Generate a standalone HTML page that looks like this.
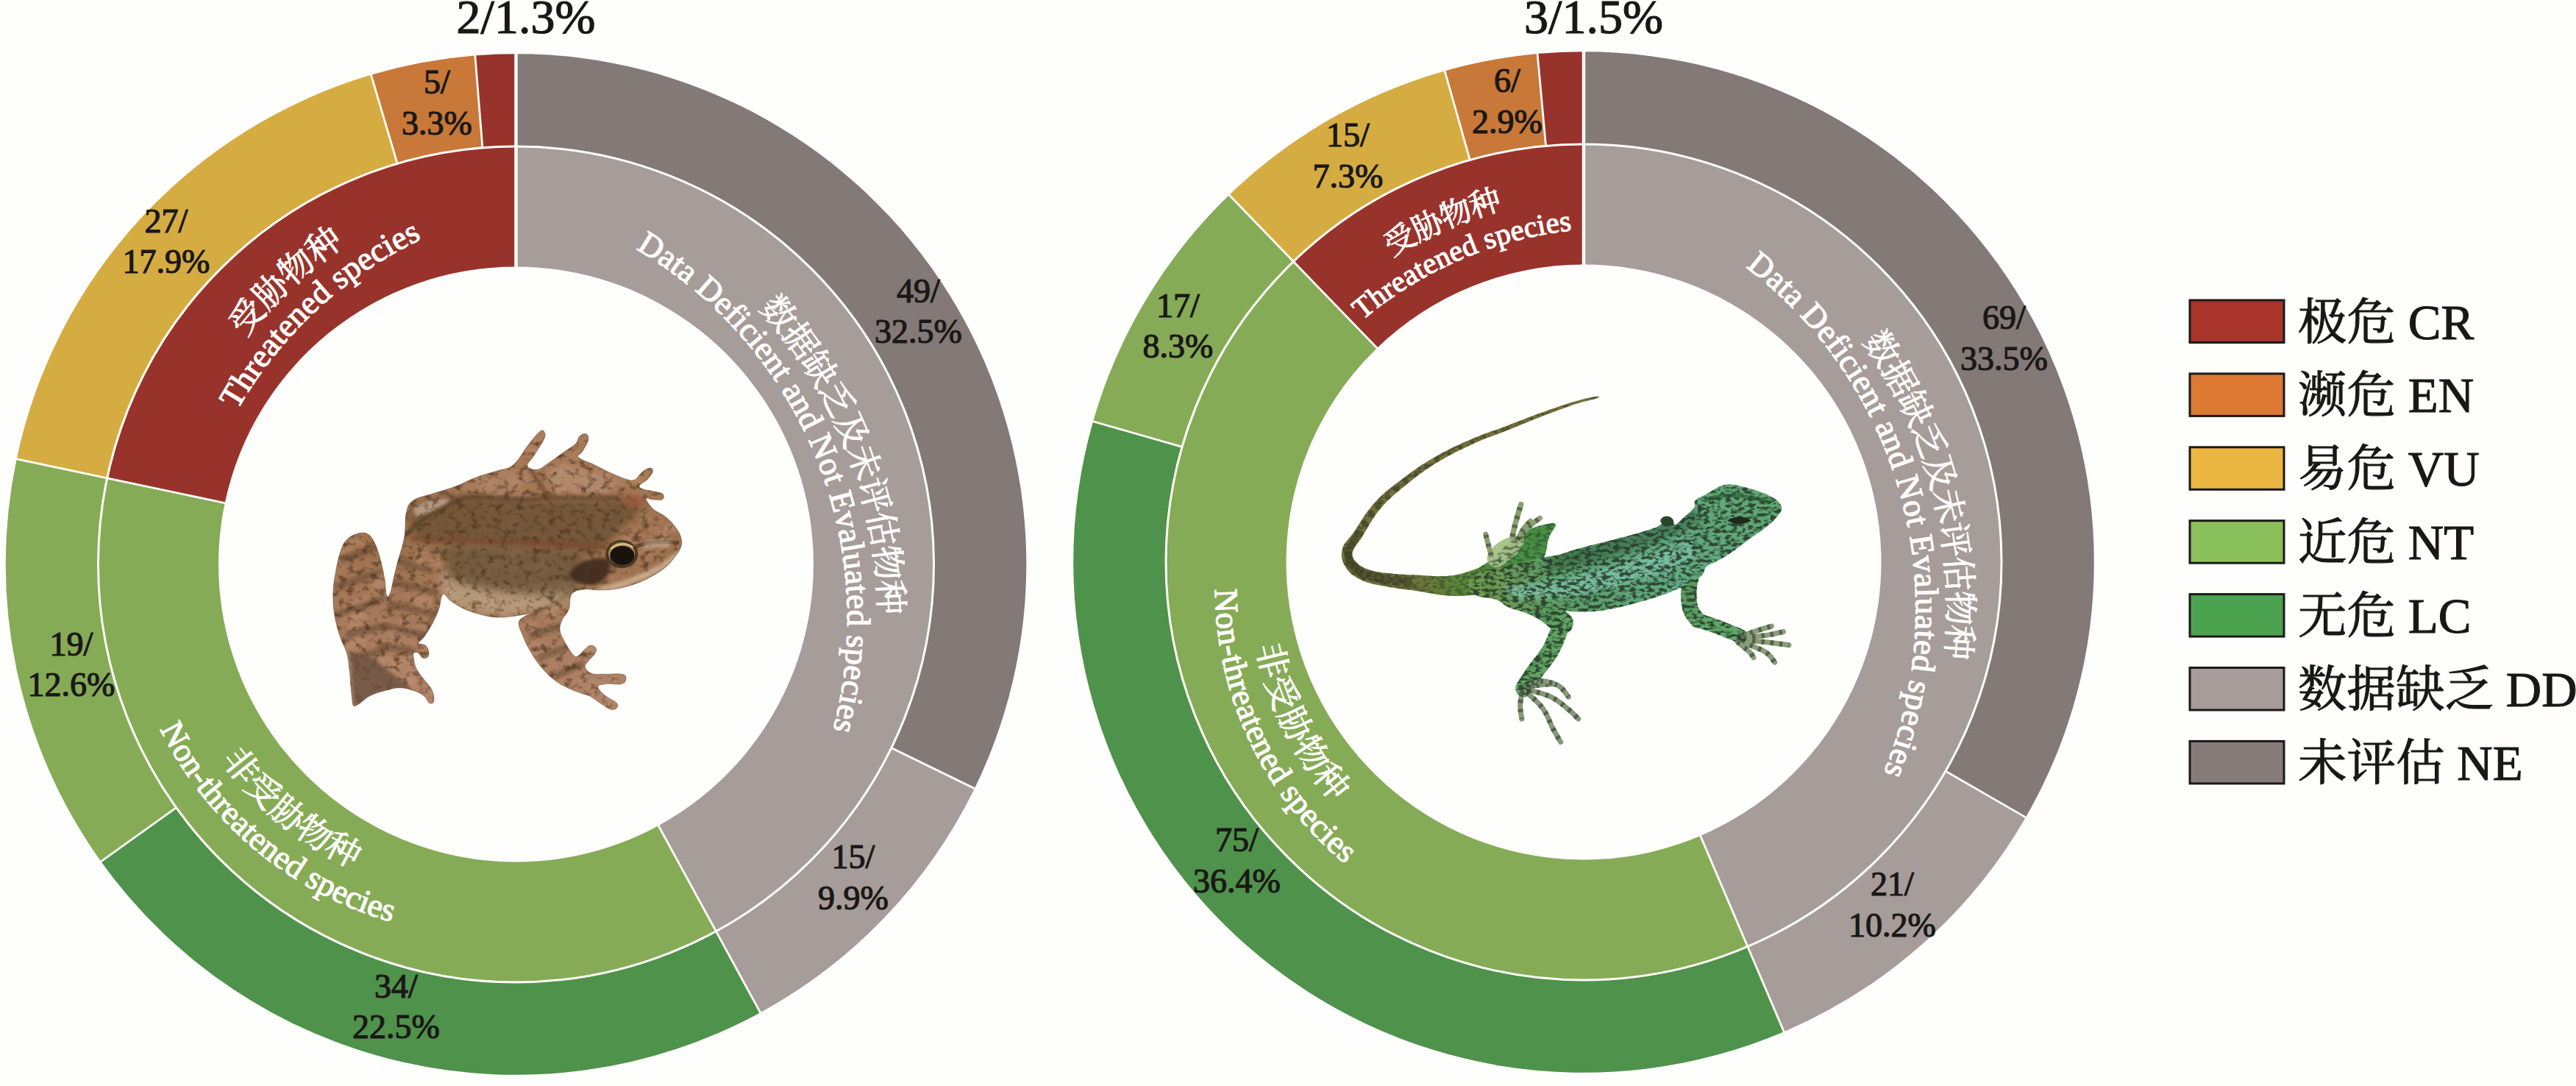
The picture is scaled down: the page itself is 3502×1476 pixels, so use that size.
<!DOCTYPE html>
<html lang="zh">
<head>
<meta charset="utf-8">
<title>Red list status of amphibians and reptiles</title>
<style>
html,body{margin:0;padding:0;background:#fefefd;}
body{width:3502px;height:1476px;overflow:hidden;}
svg{display:block;}
text{font-family:"Liberation Serif","Noto Serif CJK SC",serif;}
.lb{fill:#1a1817;text-anchor:middle;stroke:#1a1817;stroke-width:1.2px;}
.we{fill:#fffdfb;stroke:#fffdfb;stroke-width:1.2px;}
.wc{fill:#fffdfb;stroke:#fffdfb;stroke-width:0.9px;font-family:"Liberation Serif","Noto Serif CJK SC",serif;}
.lg{fill:#1a1817;font-size:67px;stroke:#1a1817;stroke-width:1.1px;}
.lc{font-family:"Liberation Serif","Noto Serif CJK SC",serif;font-size:66.5px;}
</style>
</head>
<body>
<svg width="3502" height="1476" viewBox="0 0 3502 1476">
<rect width="3502" height="1476" fill="#fefefd"/>
<defs>
<path id="l_thr_e" d="M322.73,557.64 A568.0,568.0 0 0 1 573.23,324.98" fill="none"/>
<path id="l_thr_c" d="M333.62,459.09 A614.0,614.0 0 0 1 469.00,332.07" fill="none"/>
<path id="l_non_e" d="M217.31,990.88 A505.3,505.3 0 0 0 532.29,1253.09" fill="none"/>
<path id="l_non_c" d="M300.80,1032.51 A455.0,455.0 0 0 0 480.17,1180.37" fill="none"/>
<path id="l_dd_e" d="M864.28,338.42 A584.1,584.1 0 0 1 1132.46,991.99" fill="none"/>
<path id="l_dd_c" d="M1031.01,419.01 A627.0,627.0 0 0 1 1194.97,835.78" fill="none"/>
<path id="r_thr_e" d="M1852.09,435.25 A534.6,534.6 0 0 1 2137.08,312.99" fill="none"/>
<path id="r_thr_c" d="M1892.23,349.46 A580.8,580.8 0 0 1 2043.53,283.95" fill="none"/>
<path id="r_non_e" d="M1651.70,800.67 A485.7,485.7 0 0 0 1828.85,1174.50" fill="none"/>
<path id="r_non_c" d="M1708.63,878.48 A436.0,436.0 0 0 0 1812.73,1090.41" fill="none"/>
<path id="r_dd_e" d="M2373.06,362.98 A584.1,584.1 0 0 1 2560.81,1050.24" fill="none"/>
<path id="r_dd_c" d="M2531.41,463.56 A628.0,628.0 0 0 1 2644.86,895.22" fill="none"/>
</defs>
<g id="charts">
<path d="M701.50,73.20 A693.8,693.8 0 0 1 1324.82,1071.69 L1211.80,1016.44 A568.0,568.0 0 0 0 701.50,199.00 Z" fill="#837977"/>
<path d="M1324.82,1071.69 A693.8,693.8 0 0 1 1033.62,1376.14 L973.40,1265.69 A568.0,568.0 0 0 0 1211.80,1016.44 Z" fill="#a69c99"/>
<path d="M1033.62,1376.14 A693.8,693.8 0 0 1 137.37,1170.88 L239.66,1097.65 A568.0,568.0 0 0 0 973.40,1265.69 Z" fill="#4f924b"/>
<path d="M137.37,1170.88 A693.8,693.8 0 0 1 22.61,623.94 L145.71,649.88 A568.0,568.0 0 0 0 239.66,1097.65 Z" fill="#86ab57"/>
<path d="M22.61,623.94 A693.8,693.8 0 0 1 504.45,101.77 L540.18,222.39 A568.0,568.0 0 0 0 145.71,649.88 Z" fill="#d5ac41"/>
<path d="M504.45,101.77 A693.8,693.8 0 0 1 645.86,75.43 L655.95,200.83 A568.0,568.0 0 0 0 540.18,222.39 Z" fill="#c87838"/>
<path d="M645.86,75.43 A693.8,693.8 0 0 1 701.50,73.20 L701.50,199.00 A568.0,568.0 0 0 0 655.95,200.83 Z" fill="#98332c"/>
<path d="M701.50,199.00 A568.0,568.0 0 0 1 973.40,1265.69 L895.13,1122.14 A404.5,404.5 0 0 0 701.50,362.50 Z" fill="#a69c99"/>
<path d="M973.40,1265.69 A568.0,568.0 0 0 1 145.71,649.88 L305.69,683.59 A404.5,404.5 0 0 0 895.13,1122.14 Z" fill="#86ab57"/>
<path d="M145.71,649.88 A568.0,568.0 0 0 1 701.50,199.00 L701.50,362.50 A404.5,404.5 0 0 0 305.69,683.59 Z" fill="#98332c"/>
<circle cx="701.5" cy="767.0" r="568.0" fill="none" stroke="#fffdf8" stroke-width="3.0"/>
<line x1="1211.80" y1="1016.44" x2="1325.72" y2="1072.13" stroke="#fffdf8" stroke-width="2.8"/>
<line x1="973.40" y1="1265.69" x2="1034.10" y2="1377.02" stroke="#fffdf8" stroke-width="2.8"/>
<line x1="239.66" y1="1097.65" x2="136.56" y2="1171.46" stroke="#fffdf8" stroke-width="2.8"/>
<line x1="145.71" y1="649.88" x2="21.63" y2="623.73" stroke="#fffdf8" stroke-width="2.8"/>
<line x1="540.18" y1="222.39" x2="504.17" y2="100.81" stroke="#fffdf8" stroke-width="2.8"/>
<line x1="655.95" y1="200.83" x2="645.78" y2="74.44" stroke="#fffdf8" stroke-width="2.8"/>
<line x1="894.65" y1="1121.27" x2="973.40" y2="1265.69" stroke="#fffdf8" stroke-width="2.8"/>
<line x1="306.67" y1="683.80" x2="145.71" y2="649.88" stroke="#fffdf8" stroke-width="2.8"/>
<line x1="701.50" y1="363.50" x2="701.50" y2="72.20" stroke="#fffdf8" stroke-width="4.5"/>
<path d="M2153.00,70.20 A693.8,693.8 0 0 1 2753.85,1110.90 L2644.90,1048.00 A568.0,568.0 0 0 0 2153.00,196.00 Z" fill="#837977"/>
<path d="M2753.85,1110.90 A693.8,693.8 0 0 1 2425.20,1402.17 L2375.85,1286.46 A568.0,568.0 0 0 0 2644.90,1048.00 Z" fill="#a69c99"/>
<path d="M2425.20,1402.17 A693.8,693.8 0 0 1 1486.08,572.76 L1607.00,607.44 A568.0,568.0 0 0 0 2375.85,1286.46 Z" fill="#4f924b"/>
<path d="M1486.08,572.76 A693.8,693.8 0 0 1 1671.05,264.92 L1758.43,355.41 A568.0,568.0 0 0 0 1607.00,607.44 Z" fill="#86ab57"/>
<path d="M1671.05,264.92 A693.8,693.8 0 0 1 1964.09,96.41 L1998.34,217.46 A568.0,568.0 0 0 0 1758.43,355.41 Z" fill="#d5ac41"/>
<path d="M1964.09,96.41 A693.8,693.8 0 0 1 2090.12,73.06 L2101.52,198.34 A568.0,568.0 0 0 0 1998.34,217.46 Z" fill="#c87838"/>
<path d="M2090.12,73.06 A693.8,693.8 0 0 1 2153.00,70.20 L2153.00,196.00 A568.0,568.0 0 0 0 2101.52,198.34 Z" fill="#98332c"/>
<path d="M2153.00,196.00 A568.0,568.0 0 0 1 2375.85,1286.46 L2311.70,1136.07 A404.5,404.5 0 0 0 2153.00,359.50 Z" fill="#a69c99"/>
<path d="M2375.85,1286.46 A568.0,568.0 0 0 1 1758.43,355.41 L1872.01,473.03 A404.5,404.5 0 0 0 2311.70,1136.07 Z" fill="#86ab57"/>
<path d="M1758.43,355.41 A568.0,568.0 0 0 1 2153.00,196.00 L2153.00,359.50 A404.5,404.5 0 0 0 1872.01,473.03 Z" fill="#98332c"/>
<circle cx="2153.0" cy="764.0" r="568.0" fill="none" stroke="#fffdf8" stroke-width="3.0"/>
<line x1="2644.90" y1="1048.00" x2="2754.71" y2="1111.40" stroke="#fffdf8" stroke-width="2.8"/>
<line x1="2375.85" y1="1286.46" x2="2425.60" y2="1403.09" stroke="#fffdf8" stroke-width="2.8"/>
<line x1="1607.00" y1="607.44" x2="1485.12" y2="572.49" stroke="#fffdf8" stroke-width="2.8"/>
<line x1="1758.43" y1="355.41" x2="1670.35" y2="264.20" stroke="#fffdf8" stroke-width="2.8"/>
<line x1="1998.34" y1="217.46" x2="1963.82" y2="95.45" stroke="#fffdf8" stroke-width="2.8"/>
<line x1="2101.52" y1="198.34" x2="2090.03" y2="72.06" stroke="#fffdf8" stroke-width="2.8"/>
<line x1="2311.31" y1="1135.15" x2="2375.85" y2="1286.46" stroke="#fffdf8" stroke-width="2.8"/>
<line x1="1872.71" y1="473.75" x2="1758.43" y2="355.41" stroke="#fffdf8" stroke-width="2.8"/>
<line x1="2153.00" y1="360.50" x2="2153.00" y2="69.20" stroke="#fffdf8" stroke-width="4.5"/>
</g>
<g id="animals">
<g transform="translate(440,570) scale(0.36832)">
<clipPath id="frogclip"><path d="M300.0,420.0 C303.0,395.0 299.0,369.0 305.0,345.0 C311.0,321.0 311.0,314.0 330.0,300.0 C349.0,286.0 370.0,285.0 400.0,275.0 C430.0,265.0 448.0,262.0 480.0,250.0 C512.0,238.0 528.0,227.0 560.0,215.0 C592.0,203.0 612.0,199.4 640.0,190.0 C668.0,180.6 677.0,187.0 700.0,168.0 C723.0,149.0 735.4,119.6 755.0,95.0 C774.6,70.4 786.0,54.4 798.0,45.0 C810.0,35.6 812.2,42.0 815.0,48.0 C817.8,54.0 820.0,57.6 812.0,75.0 C804.0,92.4 787.0,115.6 775.0,135.0 C763.0,154.4 749.0,162.0 752.0,172.0 C755.0,182.0 773.4,187.8 790.0,185.0 C806.6,182.2 816.0,170.6 835.0,158.0 C854.0,145.4 866.0,135.6 885.0,122.0 C904.0,108.4 918.0,102.0 930.0,90.0 C942.0,78.0 937.0,69.0 945.0,62.0 C953.0,55.0 963.8,51.8 970.0,55.0 C976.2,58.2 979.0,65.4 976.0,78.0 C973.0,90.6 962.2,105.6 955.0,118.0 C947.8,130.4 931.0,130.0 940.0,140.0 C949.0,150.0 976.0,156.4 1000.0,168.0 C1024.0,179.6 1036.0,187.2 1060.0,198.0 C1084.0,208.8 1102.0,217.2 1120.0,222.0 C1138.0,226.8 1139.6,226.8 1150.0,222.0 C1160.4,217.2 1162.0,206.4 1172.0,198.0 C1182.0,189.6 1191.4,181.6 1200.0,180.0 C1208.6,178.4 1215.8,182.0 1215.0,190.0 C1214.2,198.0 1206.0,209.0 1196.0,220.0 C1186.0,231.0 1168.2,237.4 1165.0,245.0 C1161.8,252.6 1171.0,254.2 1180.0,258.0 C1189.0,261.8 1196.0,260.6 1210.0,264.0 C1224.0,267.4 1242.0,268.8 1250.0,275.0 C1258.0,281.2 1257.0,290.8 1250.0,295.0 C1243.0,299.2 1227.0,296.6 1215.0,296.0 C1203.0,295.4 1190.0,285.2 1190.0,292.0 C1190.0,298.8 1200.6,316.4 1215.0,330.0 C1229.4,343.6 1245.0,346.0 1262.0,360.0 C1279.0,374.0 1288.4,384.0 1300.0,400.0 C1311.6,416.0 1316.4,425.6 1320.0,440.0 C1323.6,454.4 1322.0,459.6 1318.0,472.0 C1314.0,484.4 1311.2,487.4 1300.0,502.0 C1288.8,516.6 1282.0,528.4 1262.0,545.0 C1242.0,561.6 1224.4,572.0 1200.0,585.0 C1175.6,598.0 1164.0,602.0 1140.0,610.0 C1116.0,618.0 1104.0,621.0 1080.0,625.0 C1056.0,629.0 1044.0,629.6 1020.0,630.0 C996.0,630.4 981.0,624.0 960.0,627.0 C939.0,630.0 926.0,630.4 915.0,645.0 C904.0,659.6 912.0,681.0 905.0,700.0 C898.0,719.0 886.6,724.4 880.0,740.0 C873.4,755.6 870.0,761.6 872.0,778.0 C874.0,794.4 880.0,803.6 890.0,822.0 C900.0,840.4 912.0,860.0 922.0,870.0 C932.0,880.0 931.4,876.4 940.0,872.0 C948.6,867.6 956.0,855.6 965.0,848.0 C974.0,840.4 977.0,834.6 985.0,834.0 C993.0,833.4 1002.0,838.6 1005.0,845.0 C1008.0,851.4 1005.8,856.6 1000.0,866.0 C994.2,875.4 983.0,882.2 976.0,892.0 C969.0,901.8 962.2,905.8 965.0,915.0 C967.8,924.2 975.0,933.0 990.0,938.0 C1005.0,943.0 1018.0,939.6 1040.0,940.0 C1062.0,940.4 1084.8,936.8 1100.0,940.0 C1115.2,943.2 1116.0,948.8 1116.0,956.0 C1116.0,963.2 1115.2,972.0 1100.0,976.0 C1084.8,980.0 1057.6,973.6 1040.0,976.0 C1022.4,978.4 1012.0,979.2 1012.0,988.0 C1012.0,996.8 1026.4,1008.6 1040.0,1020.0 C1053.6,1031.4 1071.6,1036.2 1080.0,1045.0 C1088.4,1053.8 1086.0,1059.0 1082.0,1064.0 C1078.0,1069.0 1072.4,1073.6 1060.0,1070.0 C1047.6,1066.4 1035.0,1055.6 1020.0,1046.0 C1005.0,1036.4 999.0,1029.2 985.0,1022.0 C971.0,1014.8 967.0,1016.4 950.0,1010.0 C933.0,1003.6 920.0,1000.0 900.0,990.0 C880.0,980.0 870.0,976.0 850.0,960.0 C830.0,944.0 818.0,932.0 800.0,910.0 C782.0,888.0 773.6,874.0 760.0,850.0 C746.4,826.0 740.0,810.0 732.0,790.0 C724.0,770.0 718.4,762.4 720.0,750.0 C721.6,737.6 731.6,734.8 740.0,728.0 C748.4,721.2 770.0,716.4 762.0,716.0 C754.0,715.6 724.4,723.2 700.0,726.0 C675.6,728.8 664.0,731.2 640.0,730.0 C616.0,728.8 604.0,726.0 580.0,720.0 C556.0,714.0 542.0,710.0 520.0,700.0 C498.0,690.0 486.0,681.0 470.0,670.0 C454.0,659.0 449.0,639.0 440.0,645.0 C431.0,651.0 432.6,678.6 425.0,700.0 C417.4,721.4 412.6,732.0 402.0,752.0 C391.4,772.0 382.4,785.2 372.0,800.0 C361.6,814.8 350.0,819.6 350.0,826.0 C350.0,832.4 364.8,827.2 372.0,832.0 C379.2,836.8 383.2,841.6 386.0,850.0 C388.8,858.4 390.0,868.0 386.0,874.0 C382.0,880.0 373.2,882.4 366.0,880.0 C358.8,877.6 356.8,865.6 350.0,862.0 C343.2,858.4 335.6,858.0 332.0,862.0 C328.4,866.0 330.0,870.4 332.0,882.0 C334.0,893.6 334.4,904.4 342.0,920.0 C349.6,935.6 358.4,944.0 370.0,960.0 C381.6,976.0 392.8,984.0 400.0,1000.0 C407.2,1016.0 408.0,1030.8 406.0,1040.0 C404.0,1049.2 397.2,1050.0 390.0,1046.0 C382.8,1042.0 382.0,1029.2 370.0,1020.0 C358.0,1010.8 348.0,1006.0 330.0,1000.0 C312.0,994.0 300.0,990.0 280.0,990.0 C260.0,990.0 252.0,994.0 230.0,1000.0 C208.0,1006.0 190.0,1010.0 170.0,1020.0 C150.0,1030.0 142.0,1042.8 130.0,1050.0 C118.0,1057.2 115.0,1060.0 110.0,1056.0 C105.0,1052.0 107.0,1045.2 105.0,1030.0 C103.0,1014.8 102.0,1002.0 100.0,980.0 C98.0,958.0 98.0,944.0 95.0,920.0 C92.0,896.0 92.0,884.0 85.0,860.0 C78.0,836.0 69.0,828.0 60.0,800.0 C51.0,772.0 45.0,752.0 40.0,720.0 C35.0,688.0 34.0,672.0 35.0,640.0 C36.0,608.0 39.0,592.0 45.0,560.0 C51.0,528.0 56.0,504.0 65.0,480.0 C74.0,456.0 77.0,452.0 90.0,440.0 C103.0,428.0 115.0,423.0 130.0,420.0 C145.0,417.0 153.0,417.0 165.0,425.0 C177.0,433.0 181.0,441.0 190.0,460.0 C199.0,479.0 203.0,494.0 210.0,520.0 C217.0,546.0 220.6,564.4 225.0,590.0 C229.4,615.6 227.8,638.0 232.0,648.0 C236.2,658.0 240.4,653.6 246.0,640.0 C251.6,626.4 254.2,604.0 260.0,580.0 C265.8,556.0 269.0,542.0 275.0,520.0 C281.0,498.0 285.0,490.0 290.0,470.0 C295.0,450.0 297.0,445.0 300.0,420.0 Z"/></clipPath>
<filter id="frogtex" x="0" y="0" width="1" height="1" filterUnits="objectBoundingBox" color-interpolation-filters="sRGB"><feTurbulence type="fractalNoise" baseFrequency="0.035 0.042" numOctaves="3" seed="7" result="n"/><feColorMatrix in="n" type="matrix" values="0 0 0 0 0.30  0 0 0 0 0.21  0 0 0 0 0.13  3.4 0 0 0 -1.72"/></filter>
<filter id="frogtex2" x="0" y="0" width="1" height="1" filterUnits="objectBoundingBox" color-interpolation-filters="sRGB"><feTurbulence type="fractalNoise" baseFrequency="0.012 0.016" numOctaves="2" seed="3" result="n"/><feColorMatrix in="n" type="matrix" values="0 0 0 0 0.86  0 0 0 0 0.66  0 0 0 0 0.55  0 2.6 0 0 -1.25"/></filter>
<linearGradient id="froggrad" x1="0" y1="0" x2="0" y2="1"><stop offset="0" stop-color="#b88865"/><stop offset="0.45" stop-color="#ab7d58"/><stop offset="1" stop-color="#c39378"/></linearGradient>
<filter id="fb" x="-0.2" y="-0.2" width="1.4" height="1.4"><feGaussianBlur stdDeviation="14"/></filter>
<filter id="fb2" x="-0.3" y="-0.3" width="1.6" height="1.6"><feGaussianBlur stdDeviation="6"/></filter>
<g clip-path="url(#frogclip)">
<rect x="0" y="0" width="1420" height="1090" fill="url(#froggrad)"/>
<rect x="0" y="0" width="1420" height="1090" filter="url(#frogtex2)" opacity="0.55"/>
<path d="M430,560 C520,600 700,640 900,600 L920,660 C760,740 560,740 440,660 Z" fill="#c9b08e" opacity="0.85" filter="url(#fb)"/>
<path d="M310,330 C420,270 560,270 700,290 C860,300 1000,300 1120,290 L1180,330 C1100,400 1040,470 1000,500 C800,470 560,470 330,450 Z" fill="#6f5437" opacity="0.8" filter="url(#fb)"/>
<path d="M320,440 C500,450 760,450 1050,470" stroke="#8a4b32" stroke-width="16" fill="none" opacity="0.7" filter="url(#fb2)"/>
<path d="M430,470 C600,470 800,480 960,500 L930,640 C760,660 600,640 470,590 Z" fill="#62523a" opacity="0.65" filter="url(#fb)"/>
<line x1="60" y1="520" x2="200" y2="470" stroke="#5e4630" stroke-width="26" opacity="0.5" filter="url(#fb2)"/>
<line x1="45" y1="620" x2="215" y2="560" stroke="#5e4630" stroke-width="26" opacity="0.5" filter="url(#fb2)"/>
<line x1="50" y1="720" x2="225" y2="660" stroke="#5e4630" stroke-width="26" opacity="0.5" filter="url(#fb2)"/>
<line x1="80" y1="800" x2="230" y2="760" stroke="#5e4630" stroke-width="26" opacity="0.5" filter="url(#fb2)"/>
<line x1="100" y1="880" x2="230" y2="850" stroke="#5e4630" stroke-width="26" opacity="0.5" filter="url(#fb2)"/>
<line x1="270" y1="520" x2="400" y2="560" stroke="#5e4630" stroke-width="26" opacity="0.5" filter="url(#fb2)"/>
<line x1="255" y1="600" x2="420" y2="640" stroke="#5e4630" stroke-width="26" opacity="0.5" filter="url(#fb2)"/>
<line x1="240" y1="680" x2="410" y2="720" stroke="#5e4630" stroke-width="26" opacity="0.5" filter="url(#fb2)"/>
<line x1="220" y1="760" x2="380" y2="800" stroke="#5e4630" stroke-width="26" opacity="0.5" filter="url(#fb2)"/>
<line x1="200" y1="830" x2="340" y2="860" stroke="#5e4630" stroke-width="26" opacity="0.5" filter="url(#fb2)"/>
<line x1="760" y1="800" x2="880" y2="760" stroke="#5e4630" stroke-width="26" opacity="0.5" filter="url(#fb2)"/>
<line x1="790" y1="880" x2="930" y2="830" stroke="#5e4630" stroke-width="26" opacity="0.5" filter="url(#fb2)"/>
<line x1="850" y1="950" x2="960" y2="900" stroke="#5e4630" stroke-width="26" opacity="0.5" filter="url(#fb2)"/>
<path d="M330,330 C380,295 440,285 470,300 C440,330 380,350 340,360 Z" fill="#e3c9b4" opacity="0.7" filter="url(#fb2)"/>
<path d="M560,230 C620,200 700,190 760,200 C740,250 660,270 580,270 Z" fill="#c39a7e" opacity="0.7" filter="url(#fb)"/>
<path d="M830,180 C900,150 1000,190 1100,230 C1040,280 900,280 840,250 Z" fill="#c8a184" opacity="0.7" filter="url(#fb)"/>
<rect x="0" y="0" width="1420" height="1090" filter="url(#frogtex)" opacity="0.72"/>
<path d="M100,860 L180,880 L330,1000 L230,1000 L110,1056 Z" fill="#6e5646" opacity="0.8" filter="url(#fb2)"/>
<path d="M300,430 C340,380 420,330 520,288 C600,282 700,300 800,292 C900,286 1000,292 1090,288" stroke="#4a3624" stroke-width="12" fill="none" opacity="0.65" filter="url(#fb2)"/>
<path d="M760,180 C790,220 810,260 830,292" stroke="#4a3624" stroke-width="12" fill="none" opacity="0.6" filter="url(#fb2)"/>
<path d="M236,640 C250,560 275,480 300,425" stroke="#4a3624" stroke-width="10" fill="none" opacity="0.5" filter="url(#fb2)"/>
<path d="M445,650 C430,700 400,760 350,826" stroke="#5a4430" stroke-width="10" fill="none" opacity="0.4" filter="url(#fb2)"/>
<path d="M905,640 C850,690 790,710 740,728" stroke="#5a4430" stroke-width="10" fill="none" opacity="0.4" filter="url(#fb2)"/>
<rect x="0" y="0" width="1420" height="1090" fill="#4a3018" opacity="0.13"/>
<path d="M905,575 C930,520 1000,505 1055,515 C1070,560 1040,600 1000,610 C960,615 920,605 905,575 Z" fill="#3c2c1e" opacity="0.9" filter="url(#fb2)"/>
<path d="M1150,470 C1200,450 1260,450 1312,455" stroke="#5a3e28" stroke-width="14" fill="none" opacity="0.8"/>
<path d="M1000,625 C1100,600 1230,560 1310,480 L1318,500 C1250,570 1130,620 1020,640 Z" fill="#d9bfa0" opacity="0.7" filter="url(#fb2)"/>
<path d="M1180,455 C1220,440 1260,440 1290,450 L1270,475 C1240,470 1210,470 1185,480 Z" fill="#e8dccb" opacity="0.4" filter="url(#fb2)"/>
<ellipse cx="1100" cy="497" rx="60" ry="52" fill="#4a3826"/>
<ellipse cx="1100" cy="495" rx="49" ry="41" fill="#a88a58"/>
<ellipse cx="1102" cy="502" rx="45" ry="35" fill="#1a130d"/>
<path d="M1060,478 C1085,455 1120,455 1142,472" stroke="#e0cf9c" stroke-width="5" fill="none"/>
<path d="M1090,300 C1120,270 1170,270 1195,300 C1180,330 1120,340 1090,300 Z" fill="#9a5a3c" opacity="0.7" filter="url(#fb2)"/>
</g>
<path d="M300.0,420.0 C303.0,395.0 299.0,369.0 305.0,345.0 C311.0,321.0 311.0,314.0 330.0,300.0 C349.0,286.0 370.0,285.0 400.0,275.0 C430.0,265.0 448.0,262.0 480.0,250.0 C512.0,238.0 528.0,227.0 560.0,215.0 C592.0,203.0 612.0,199.4 640.0,190.0 C668.0,180.6 677.0,187.0 700.0,168.0 C723.0,149.0 735.4,119.6 755.0,95.0 C774.6,70.4 786.0,54.4 798.0,45.0 C810.0,35.6 812.2,42.0 815.0,48.0 C817.8,54.0 820.0,57.6 812.0,75.0 C804.0,92.4 787.0,115.6 775.0,135.0 C763.0,154.4 749.0,162.0 752.0,172.0 C755.0,182.0 773.4,187.8 790.0,185.0 C806.6,182.2 816.0,170.6 835.0,158.0 C854.0,145.4 866.0,135.6 885.0,122.0 C904.0,108.4 918.0,102.0 930.0,90.0 C942.0,78.0 937.0,69.0 945.0,62.0 C953.0,55.0 963.8,51.8 970.0,55.0 C976.2,58.2 979.0,65.4 976.0,78.0 C973.0,90.6 962.2,105.6 955.0,118.0 C947.8,130.4 931.0,130.0 940.0,140.0 C949.0,150.0 976.0,156.4 1000.0,168.0 C1024.0,179.6 1036.0,187.2 1060.0,198.0 C1084.0,208.8 1102.0,217.2 1120.0,222.0 C1138.0,226.8 1139.6,226.8 1150.0,222.0 C1160.4,217.2 1162.0,206.4 1172.0,198.0 C1182.0,189.6 1191.4,181.6 1200.0,180.0 C1208.6,178.4 1215.8,182.0 1215.0,190.0 C1214.2,198.0 1206.0,209.0 1196.0,220.0 C1186.0,231.0 1168.2,237.4 1165.0,245.0 C1161.8,252.6 1171.0,254.2 1180.0,258.0 C1189.0,261.8 1196.0,260.6 1210.0,264.0 C1224.0,267.4 1242.0,268.8 1250.0,275.0 C1258.0,281.2 1257.0,290.8 1250.0,295.0 C1243.0,299.2 1227.0,296.6 1215.0,296.0 C1203.0,295.4 1190.0,285.2 1190.0,292.0 C1190.0,298.8 1200.6,316.4 1215.0,330.0 C1229.4,343.6 1245.0,346.0 1262.0,360.0 C1279.0,374.0 1288.4,384.0 1300.0,400.0 C1311.6,416.0 1316.4,425.6 1320.0,440.0 C1323.6,454.4 1322.0,459.6 1318.0,472.0 C1314.0,484.4 1311.2,487.4 1300.0,502.0 C1288.8,516.6 1282.0,528.4 1262.0,545.0 C1242.0,561.6 1224.4,572.0 1200.0,585.0 C1175.6,598.0 1164.0,602.0 1140.0,610.0 C1116.0,618.0 1104.0,621.0 1080.0,625.0 C1056.0,629.0 1044.0,629.6 1020.0,630.0 C996.0,630.4 981.0,624.0 960.0,627.0 C939.0,630.0 926.0,630.4 915.0,645.0 C904.0,659.6 912.0,681.0 905.0,700.0 C898.0,719.0 886.6,724.4 880.0,740.0 C873.4,755.6 870.0,761.6 872.0,778.0 C874.0,794.4 880.0,803.6 890.0,822.0 C900.0,840.4 912.0,860.0 922.0,870.0 C932.0,880.0 931.4,876.4 940.0,872.0 C948.6,867.6 956.0,855.6 965.0,848.0 C974.0,840.4 977.0,834.6 985.0,834.0 C993.0,833.4 1002.0,838.6 1005.0,845.0 C1008.0,851.4 1005.8,856.6 1000.0,866.0 C994.2,875.4 983.0,882.2 976.0,892.0 C969.0,901.8 962.2,905.8 965.0,915.0 C967.8,924.2 975.0,933.0 990.0,938.0 C1005.0,943.0 1018.0,939.6 1040.0,940.0 C1062.0,940.4 1084.8,936.8 1100.0,940.0 C1115.2,943.2 1116.0,948.8 1116.0,956.0 C1116.0,963.2 1115.2,972.0 1100.0,976.0 C1084.8,980.0 1057.6,973.6 1040.0,976.0 C1022.4,978.4 1012.0,979.2 1012.0,988.0 C1012.0,996.8 1026.4,1008.6 1040.0,1020.0 C1053.6,1031.4 1071.6,1036.2 1080.0,1045.0 C1088.4,1053.8 1086.0,1059.0 1082.0,1064.0 C1078.0,1069.0 1072.4,1073.6 1060.0,1070.0 C1047.6,1066.4 1035.0,1055.6 1020.0,1046.0 C1005.0,1036.4 999.0,1029.2 985.0,1022.0 C971.0,1014.8 967.0,1016.4 950.0,1010.0 C933.0,1003.6 920.0,1000.0 900.0,990.0 C880.0,980.0 870.0,976.0 850.0,960.0 C830.0,944.0 818.0,932.0 800.0,910.0 C782.0,888.0 773.6,874.0 760.0,850.0 C746.4,826.0 740.0,810.0 732.0,790.0 C724.0,770.0 718.4,762.4 720.0,750.0 C721.6,737.6 731.6,734.8 740.0,728.0 C748.4,721.2 770.0,716.4 762.0,716.0 C754.0,715.6 724.4,723.2 700.0,726.0 C675.6,728.8 664.0,731.2 640.0,730.0 C616.0,728.8 604.0,726.0 580.0,720.0 C556.0,714.0 542.0,710.0 520.0,700.0 C498.0,690.0 486.0,681.0 470.0,670.0 C454.0,659.0 449.0,639.0 440.0,645.0 C431.0,651.0 432.6,678.6 425.0,700.0 C417.4,721.4 412.6,732.0 402.0,752.0 C391.4,772.0 382.4,785.2 372.0,800.0 C361.6,814.8 350.0,819.6 350.0,826.0 C350.0,832.4 364.8,827.2 372.0,832.0 C379.2,836.8 383.2,841.6 386.0,850.0 C388.8,858.4 390.0,868.0 386.0,874.0 C382.0,880.0 373.2,882.4 366.0,880.0 C358.8,877.6 356.8,865.6 350.0,862.0 C343.2,858.4 335.6,858.0 332.0,862.0 C328.4,866.0 330.0,870.4 332.0,882.0 C334.0,893.6 334.4,904.4 342.0,920.0 C349.6,935.6 358.4,944.0 370.0,960.0 C381.6,976.0 392.8,984.0 400.0,1000.0 C407.2,1016.0 408.0,1030.8 406.0,1040.0 C404.0,1049.2 397.2,1050.0 390.0,1046.0 C382.8,1042.0 382.0,1029.2 370.0,1020.0 C358.0,1010.8 348.0,1006.0 330.0,1000.0 C312.0,994.0 300.0,990.0 280.0,990.0 C260.0,990.0 252.0,994.0 230.0,1000.0 C208.0,1006.0 190.0,1010.0 170.0,1020.0 C150.0,1030.0 142.0,1042.8 130.0,1050.0 C118.0,1057.2 115.0,1060.0 110.0,1056.0 C105.0,1052.0 107.0,1045.2 105.0,1030.0 C103.0,1014.8 102.0,1002.0 100.0,980.0 C98.0,958.0 98.0,944.0 95.0,920.0 C92.0,896.0 92.0,884.0 85.0,860.0 C78.0,836.0 69.0,828.0 60.0,800.0 C51.0,772.0 45.0,752.0 40.0,720.0 C35.0,688.0 34.0,672.0 35.0,640.0 C36.0,608.0 39.0,592.0 45.0,560.0 C51.0,528.0 56.0,504.0 65.0,480.0 C74.0,456.0 77.0,452.0 90.0,440.0 C103.0,428.0 115.0,423.0 130.0,420.0 C145.0,417.0 153.0,417.0 165.0,425.0 C177.0,433.0 181.0,441.0 190.0,460.0 C199.0,479.0 203.0,494.0 210.0,520.0 C217.0,546.0 220.6,564.4 225.0,590.0 C229.4,615.6 227.8,638.0 232.0,648.0 C236.2,658.0 240.4,653.6 246.0,640.0 C251.6,626.4 254.2,604.0 260.0,580.0 C265.8,556.0 269.0,542.0 275.0,520.0 C281.0,498.0 285.0,490.0 290.0,470.0 C295.0,450.0 297.0,445.0 300.0,420.0 Z" fill="none" stroke="#6b5240" stroke-width="3" opacity="0.5"/>
</g>
<g transform="translate(1820,520) scale(0.53399)">
<filter id="liztex" x="0" y="0" width="1" height="1" filterUnits="objectBoundingBox" color-interpolation-filters="sRGB"><feTurbulence type="fractalNoise" baseFrequency="0.07 0.12" numOctaves="2" seed="11" result="n"/><feColorMatrix in="n" type="matrix" values="0 0 0 0 0.16  0 0 0 0 0.24  0 0 0 0 0.17  5 0 0 0 -2.2"/></filter>
<filter id="lb" x="-0.2" y="-0.2" width="1.4" height="1.4"><feGaussianBlur stdDeviation="7"/></filter>
<linearGradient id="tailgrad" gradientUnits="userSpaceOnUse" x1="650" y1="40" x2="380" y2="500"><stop offset="0" stop-color="#6e6a52"/><stop offset="1" stop-color="#77703a"/></linearGradient>
<linearGradient id="bodygrad" gradientUnits="userSpaceOnUse" x1="380" y1="520" x2="1100" y2="300"><stop offset="0" stop-color="#74a052"/><stop offset="0.25" stop-color="#5ea56c"/><stop offset="0.6" stop-color="#68b48c"/><stop offset="1" stop-color="#62ae76"/></linearGradient>
<clipPath id="lizclip">
<path d="M654.4,35.6 C643.1,37.2 626.1,40.6 599.0,48.7 C571.8,56.7 552.6,63.5 518.4,75.8 C484.2,88.0 464.2,96.2 428.0,109.9 C391.8,123.5 373.7,128.3 337.4,144.1 C301.0,159.8 280.8,168.8 246.2,188.5 C211.6,208.3 195.3,219.6 164.5,242.9 C133.7,266.2 117.0,277.9 92.2,305.0 C67.3,332.1 56.7,354.4 40.0,378.3 C23.4,402.2 13.3,406.2 8.9,424.6 C4.5,443.0 8.3,454.8 18.1,470.3 C27.9,485.8 37.6,492.5 57.8,502.2 C78.1,511.9 91.2,513.2 119.3,518.8 C147.3,524.3 165.9,525.3 198.1,529.9 C230.3,534.6 248.7,540.1 280.3,542.0 C311.9,543.9 326.1,542.1 356.1,539.4 C386.0,536.8 419.2,546.4 430.0,528.7 C440.8,511.1 427.2,461.7 410.0,451.3 C392.8,440.8 370.0,468.4 343.9,476.6 C317.9,484.7 308.1,489.3 279.7,492.0 C251.3,494.7 232.9,491.4 201.9,490.1 C170.9,488.7 151.1,488.5 124.7,485.2 C98.4,482.0 86.7,480.1 70.2,473.8 C53.6,467.5 48.9,462.2 41.9,453.7 C34.9,445.2 31.5,443.8 35.1,431.4 C38.7,419.0 45.4,414.2 60.0,391.7 C74.5,369.2 84.7,345.9 107.8,319.0 C131.0,292.1 146.3,280.6 175.5,257.1 C204.7,233.6 220.4,221.7 253.8,201.5 C287.2,181.2 307.0,172.2 342.6,155.9 C378.3,139.7 396.2,134.5 432.0,120.1 C467.8,105.8 487.8,97.2 521.6,84.2 C555.4,71.3 574.2,64.1 601.0,55.3 C627.9,46.6 644.9,44.4 655.6,40.4 C666.3,36.5 665.7,33.9 654.4,35.6 Z"/>
<path d="M380.0,478.0 C402.0,471.4 422.0,468.6 450.0,462.0 C478.0,455.4 498.0,449.8 520.0,445.0 C542.0,440.2 540.0,443.0 560.0,438.0 C580.0,433.0 592.0,427.6 620.0,420.0 C648.0,412.4 668.0,408.4 700.0,400.0 C732.0,391.6 756.0,385.6 780.0,378.0 C804.0,370.4 809.6,368.4 820.0,362.0 C830.4,355.6 826.0,348.8 832.0,346.0 C838.0,343.2 845.2,344.8 850.0,348.0 C854.8,351.2 850.0,363.2 856.0,362.0 C862.0,360.8 870.2,350.8 880.0,342.0 C889.8,333.2 899.4,326.4 905.0,318.0 C910.6,309.6 901.0,307.2 908.0,300.0 C915.0,292.8 924.6,290.0 940.0,282.0 C955.4,274.0 965.0,262.8 985.0,260.0 C1005.0,257.2 1017.0,262.0 1040.0,268.0 C1063.0,274.0 1082.8,280.8 1100.0,290.0 C1117.2,299.2 1122.0,304.8 1126.0,314.0 C1130.0,323.2 1127.2,325.6 1120.0,336.0 C1112.8,346.4 1106.0,352.8 1090.0,366.0 C1074.0,379.2 1058.0,388.8 1040.0,402.0 C1022.0,415.2 1016.0,421.2 1000.0,432.0 C984.0,442.8 972.8,448.8 960.0,456.0 C947.2,463.2 943.0,461.2 936.0,468.0 C929.0,474.8 932.2,482.6 925.0,490.0 C917.8,497.4 911.0,498.6 900.0,505.0 C889.0,511.4 886.0,514.6 870.0,522.0 C854.0,529.4 842.0,534.4 820.0,542.0 C798.0,549.6 784.0,553.4 760.0,560.0 C736.0,566.6 724.0,570.4 700.0,575.0 C676.0,579.6 664.0,581.8 640.0,583.0 C616.0,584.2 600.0,583.2 580.0,581.0 C560.0,578.8 556.0,571.2 540.0,572.0 C524.0,572.8 520.0,584.4 500.0,585.0 C480.0,585.6 460.0,581.6 440.0,575.0 C420.0,568.4 418.0,558.6 400.0,552.0 C382.0,545.4 364.0,548.4 350.0,542.0 C336.0,535.6 332.0,529.4 330.0,520.0 C328.0,510.6 330.0,503.4 340.0,495.0 C350.0,486.6 358.0,484.6 380.0,478.0 Z"/>
</clipPath>
<radialGradient id="tailbase" gradientUnits="userSpaceOnUse" cx="430" cy="500" r="330"><stop offset="0" stop-color="#4a8c3c"/><stop offset="0.45" stop-color="#5f8a38" stop-opacity="0.9"/><stop offset="1" stop-color="#77703a" stop-opacity="0"/></radialGradient>
<path d="M654.4,35.6 C643.1,37.2 626.1,40.6 599.0,48.7 C571.8,56.7 552.6,63.5 518.4,75.8 C484.2,88.0 464.2,96.2 428.0,109.9 C391.8,123.5 373.7,128.3 337.4,144.1 C301.0,159.8 280.8,168.8 246.2,188.5 C211.6,208.3 195.3,219.6 164.5,242.9 C133.7,266.2 117.0,277.9 92.2,305.0 C67.3,332.1 56.7,354.4 40.0,378.3 C23.4,402.2 13.3,406.2 8.9,424.6 C4.5,443.0 8.3,454.8 18.1,470.3 C27.9,485.8 37.6,492.5 57.8,502.2 C78.1,511.9 91.2,513.2 119.3,518.8 C147.3,524.3 165.9,525.3 198.1,529.9 C230.3,534.6 248.7,540.1 280.3,542.0 C311.9,543.9 326.1,542.1 356.1,539.4 C386.0,536.8 419.2,546.4 430.0,528.7 C440.8,511.1 427.2,461.7 410.0,451.3 C392.8,440.8 370.0,468.4 343.9,476.6 C317.9,484.7 308.1,489.3 279.7,492.0 C251.3,494.7 232.9,491.4 201.9,490.1 C170.9,488.7 151.1,488.5 124.7,485.2 C98.4,482.0 86.7,480.1 70.2,473.8 C53.6,467.5 48.9,462.2 41.9,453.7 C34.9,445.2 31.5,443.8 35.1,431.4 C38.7,419.0 45.4,414.2 60.0,391.7 C74.5,369.2 84.7,345.9 107.8,319.0 C131.0,292.1 146.3,280.6 175.5,257.1 C204.7,233.6 220.4,221.7 253.8,201.5 C287.2,181.2 307.0,172.2 342.6,155.9 C378.3,139.7 396.2,134.5 432.0,120.1 C467.8,105.8 487.8,97.2 521.6,84.2 C555.4,71.3 574.2,64.1 601.0,55.3 C627.9,46.6 644.9,44.4 655.6,40.4 C666.3,36.5 665.7,33.9 654.4,35.6 Z" fill="#7a743c"/>
<path d="M654.4,35.6 C643.1,37.2 626.1,40.6 599.0,48.7 C571.8,56.7 552.6,63.5 518.4,75.8 C484.2,88.0 464.2,96.2 428.0,109.9 C391.8,123.5 373.7,128.3 337.4,144.1 C301.0,159.8 280.8,168.8 246.2,188.5 C211.6,208.3 195.3,219.6 164.5,242.9 C133.7,266.2 117.0,277.9 92.2,305.0 C67.3,332.1 56.7,354.4 40.0,378.3 C23.4,402.2 13.3,406.2 8.9,424.6 C4.5,443.0 8.3,454.8 18.1,470.3 C27.9,485.8 37.6,492.5 57.8,502.2 C78.1,511.9 91.2,513.2 119.3,518.8 C147.3,524.3 165.9,525.3 198.1,529.9 C230.3,534.6 248.7,540.1 280.3,542.0 C311.9,543.9 326.1,542.1 356.1,539.4 C386.0,536.8 419.2,546.4 430.0,528.7 C440.8,511.1 427.2,461.7 410.0,451.3 C392.8,440.8 370.0,468.4 343.9,476.6 C317.9,484.7 308.1,489.3 279.7,492.0 C251.3,494.7 232.9,491.4 201.9,490.1 C170.9,488.7 151.1,488.5 124.7,485.2 C98.4,482.0 86.7,480.1 70.2,473.8 C53.6,467.5 48.9,462.2 41.9,453.7 C34.9,445.2 31.5,443.8 35.1,431.4 C38.7,419.0 45.4,414.2 60.0,391.7 C74.5,369.2 84.7,345.9 107.8,319.0 C131.0,292.1 146.3,280.6 175.5,257.1 C204.7,233.6 220.4,221.7 253.8,201.5 C287.2,181.2 307.0,172.2 342.6,155.9 C378.3,139.7 396.2,134.5 432.0,120.1 C467.8,105.8 487.8,97.2 521.6,84.2 C555.4,71.3 574.2,64.1 601.0,55.3 C627.9,46.6 644.9,44.4 655.6,40.4 C666.3,36.5 665.7,33.9 654.4,35.6 Z" fill="url(#tailbase)"/>
<circle cx="520.0" cy="80.0" r="3.8" fill="#3d3a22" opacity="0.55"/>
<circle cx="490.3" cy="91.5" r="3.8" fill="#3d3a22" opacity="0.55"/>
<circle cx="460.6" cy="103.1" r="3.8" fill="#3d3a22" opacity="0.55"/>
<circle cx="430.0" cy="115.0" r="4.6" fill="#3d3a22" opacity="0.55"/>
<circle cx="400.3" cy="126.5" r="4.6" fill="#3d3a22" opacity="0.55"/>
<circle cx="370.6" cy="138.1" r="4.6" fill="#3d3a22" opacity="0.55"/>
<circle cx="340.0" cy="150.0" r="5.5" fill="#3d3a22" opacity="0.55"/>
<circle cx="310.3" cy="164.8" r="5.5" fill="#3d3a22" opacity="0.55"/>
<circle cx="280.6" cy="179.7" r="5.5" fill="#3d3a22" opacity="0.55"/>
<circle cx="250.0" cy="195.0" r="6.3" fill="#3d3a22" opacity="0.55"/>
<circle cx="223.6" cy="213.2" r="6.3" fill="#3d3a22" opacity="0.55"/>
<circle cx="197.2" cy="231.3" r="6.3" fill="#3d3a22" opacity="0.55"/>
<circle cx="170.0" cy="250.0" r="7.6" fill="#3d3a22" opacity="0.55"/>
<circle cx="146.9" cy="270.5" r="7.6" fill="#3d3a22" opacity="0.55"/>
<circle cx="123.8" cy="290.9" r="7.6" fill="#3d3a22" opacity="0.55"/>
<circle cx="100.0" cy="312.0" r="8.8" fill="#3d3a22" opacity="0.55"/>
<circle cx="83.5" cy="336.1" r="8.8" fill="#3d3a22" opacity="0.55"/>
<circle cx="67.0" cy="360.2" r="8.8" fill="#3d3a22" opacity="0.55"/>
<circle cx="50.0" cy="385.0" r="10.1" fill="#3d3a22" opacity="0.55"/>
<circle cx="40.8" cy="399.2" r="10.1" fill="#3d3a22" opacity="0.55"/>
<circle cx="31.5" cy="413.4" r="10.1" fill="#3d3a22" opacity="0.55"/>
<circle cx="22.0" cy="428.0" r="11.3" fill="#3d3a22" opacity="0.55"/>
<circle cx="24.6" cy="439.2" r="11.3" fill="#3d3a22" opacity="0.55"/>
<circle cx="27.3" cy="450.4" r="11.3" fill="#3d3a22" opacity="0.55"/>
<circle cx="30.0" cy="462.0" r="12.2" fill="#3d3a22" opacity="0.55"/>
<circle cx="41.2" cy="470.6" r="12.2" fill="#3d3a22" opacity="0.55"/>
<circle cx="52.4" cy="479.2" r="12.2" fill="#3d3a22" opacity="0.55"/>
<circle cx="64.0" cy="488.0" r="13.0" fill="#3d3a22" opacity="0.55"/>
<circle cx="83.1" cy="492.6" r="13.0" fill="#3d3a22" opacity="0.55"/>
<circle cx="102.3" cy="497.2" r="13.0" fill="#3d3a22" opacity="0.55"/>
<circle cx="122.0" cy="502.0" r="14.3" fill="#3d3a22" opacity="0.55"/>
<circle cx="147.7" cy="504.6" r="14.3" fill="#3d3a22" opacity="0.55"/>
<circle cx="173.5" cy="507.3" r="14.3" fill="#3d3a22" opacity="0.55"/>
<path d="M520.0,448.0 C531.0,434.0 528.6,412.2 535.0,395.0 C541.4,377.8 553.0,369.0 552.0,362.0 C551.0,355.0 542.4,358.0 530.0,360.0 C517.6,362.0 505.0,365.6 490.0,372.0 C475.0,378.4 469.0,382.4 455.0,392.0 C441.0,401.6 431.0,408.4 420.0,420.0 C409.0,431.6 398.0,440.0 400.0,450.0 C402.0,460.0 414.0,467.0 430.0,470.0 C446.0,473.0 462.0,469.4 480.0,465.0 C498.0,460.6 509.0,462.0 520.0,448.0 Z" fill="#4a9446"/>
<path d="M378.0,452.0 C376.4,442.0 381.6,431.4 392.0,420.0 C402.4,408.6 414.4,400.6 430.0,395.0 C445.6,389.4 463.6,386.0 470.0,392.0 C476.4,398.0 470.0,412.4 462.0,425.0 C454.0,437.6 442.4,446.0 430.0,455.0 C417.6,464.0 410.4,470.6 400.0,470.0 C389.6,469.4 379.6,462.0 378.0,452.0 Z" fill="#a9c48a"/>
<path d="M442.0,392.0 C444.0,383.6 447.6,366.4 452.0,350.0 C456.4,333.6 461.6,318.0 464.0,310.0" fill="none" stroke-linecap="round" stroke-linejoin="round" stroke-width="14" stroke="#8aa070"/>
<path d="M442.0,392.0 C444.0,383.6 447.6,366.4 452.0,350.0 C456.4,333.6 461.6,318.0 464.0,310.0" fill="none" stroke-width="14" stroke="#3c4a34" stroke-dasharray="8 15" opacity="0.65"/>
<path d="M468.0,385.0 C472.4,380.4 481.2,370.0 490.0,362.0 C498.8,354.0 507.6,348.4 512.0,345.0" fill="none" stroke-linecap="round" stroke-linejoin="round" stroke-width="13" stroke="#8aa070"/>
<path d="M468.0,385.0 C472.4,380.4 481.2,370.0 490.0,362.0 C498.8,354.0 507.6,348.4 512.0,345.0" fill="none" stroke-width="13" stroke="#3c4a34" stroke-dasharray="8 15" opacity="0.65"/>
<path d="M388.0,440.0 C386.4,434.0 382.8,420.8 380.0,410.0 C377.2,399.2 375.2,390.8 374.0,386.0" fill="none" stroke-linecap="round" stroke-linejoin="round" stroke-width="13" stroke="#8aa070"/>
<path d="M388.0,440.0 C386.4,434.0 382.8,420.8 380.0,410.0 C377.2,399.2 375.2,390.8 374.0,386.0" fill="none" stroke-width="13" stroke="#3c4a34" stroke-dasharray="8 15" opacity="0.65"/>
<path d="M455.0,400.0 C458.0,394.4 463.4,381.6 470.0,372.0 C476.6,362.4 484.4,356.0 488.0,352.0" fill="none" stroke-linecap="round" stroke-linejoin="round" stroke-width="12" stroke="#8aa070"/>
<path d="M455.0,400.0 C458.0,394.4 463.4,381.6 470.0,372.0 C476.6,362.4 484.4,356.0 488.0,352.0" fill="none" stroke-width="12" stroke="#3c4a34" stroke-dasharray="8 15" opacity="0.65"/>
<path d="M460.0,548.0 C472.0,553.4 498.4,562.2 520.0,575.0 C541.6,587.8 558.4,604.6 568.0,612.0" fill="none" stroke-linecap="round" stroke-linejoin="round" stroke-width="58" stroke="#5ca662"/>
<path d="M568.0,612.0 C562.4,625.6 553.6,655.4 540.0,680.0 C526.4,704.6 513.6,715.4 500.0,735.0 C486.4,754.6 477.6,769.4 472.0,778.0" fill="none" stroke-linecap="round" stroke-linejoin="round" stroke-width="44" stroke="#66ac68"/>
<path d="M905.0,470.0 C902.4,480.0 894.0,499.0 892.0,520.0 C890.0,541.0 890.4,558.0 895.0,575.0 C899.6,592.0 911.0,599.0 915.0,605.0" fill="none" stroke-linecap="round" stroke-linejoin="round" stroke-width="40" stroke="#5ca666"/>
<path d="M915.0,605.0 C925.0,608.4 943.6,614.0 965.0,622.0 C986.4,630.0 1010.6,640.4 1022.0,645.0" fill="none" stroke-linecap="round" stroke-linejoin="round" stroke-width="36" stroke="#66b06e"/>
<path d="M1025.0,645.0 C1035.0,641.6 1059.6,633.0 1075.0,628.0 C1090.4,623.0 1096.6,621.6 1102.0,620.0" fill="none" stroke-linecap="round" stroke-linejoin="round" stroke-width="13" stroke="#8a9c7a"/>
<path d="M1025.0,645.0 C1035.0,641.6 1059.6,633.0 1075.0,628.0 C1090.4,623.0 1096.6,621.6 1102.0,620.0" fill="none" stroke-width="13" stroke="#3c4a34" stroke-dasharray="8 15" opacity="0.7"/>
<path d="M1030.0,650.0 C1043.0,648.4 1074.6,645.2 1095.0,642.0 C1115.4,638.8 1124.6,635.6 1132.0,634.0" fill="none" stroke-linecap="round" stroke-linejoin="round" stroke-width="13" stroke="#8a9c7a"/>
<path d="M1030.0,650.0 C1043.0,648.4 1074.6,645.2 1095.0,642.0 C1115.4,638.8 1124.6,635.6 1132.0,634.0" fill="none" stroke-width="13" stroke="#3c4a34" stroke-dasharray="8 15" opacity="0.7"/>
<path d="M1030.0,655.0 C1044.0,656.4 1076.8,659.4 1100.0,662.0 C1123.2,664.6 1136.8,666.8 1146.0,668.0" fill="none" stroke-linecap="round" stroke-linejoin="round" stroke-width="13" stroke="#8a9c7a"/>
<path d="M1030.0,655.0 C1044.0,656.4 1076.8,659.4 1100.0,662.0 C1123.2,664.6 1136.8,666.8 1146.0,668.0" fill="none" stroke-width="13" stroke="#3c4a34" stroke-dasharray="8 15" opacity="0.7"/>
<path d="M1025.0,660.0 C1037.0,665.0 1068.0,674.6 1085.0,685.0 C1102.0,695.4 1105.0,706.6 1110.0,712.0" fill="none" stroke-linecap="round" stroke-linejoin="round" stroke-width="13" stroke="#8a9c7a"/>
<path d="M1025.0,660.0 C1037.0,665.0 1068.0,674.6 1085.0,685.0 C1102.0,695.4 1105.0,706.6 1110.0,712.0" fill="none" stroke-width="13" stroke="#3c4a34" stroke-dasharray="8 15" opacity="0.7"/>
<path d="M1015.0,660.0 C1021.0,665.0 1036.8,677.0 1045.0,685.0 C1053.2,693.0 1053.8,697.0 1056.0,700.0" fill="none" stroke-linecap="round" stroke-linejoin="round" stroke-width="13" stroke="#8a9c7a"/>
<path d="M1015.0,660.0 C1021.0,665.0 1036.8,677.0 1045.0,685.0 C1053.2,693.0 1053.8,697.0 1056.0,700.0" fill="none" stroke-width="13" stroke="#3c4a34" stroke-dasharray="8 15" opacity="0.7"/>
<path d="M480.0,775.0 C490.0,773.6 514.0,768.6 530.0,768.0 C546.0,767.4 549.0,765.6 560.0,772.0 C571.0,778.4 580.0,794.4 585.0,800.0" fill="none" stroke-linecap="round" stroke-linejoin="round" stroke-width="13" stroke="#86987a"/>
<path d="M480.0,775.0 C490.0,773.6 514.0,768.6 530.0,768.0 C546.0,767.4 549.0,765.6 560.0,772.0 C571.0,778.4 580.0,794.4 585.0,800.0" fill="none" stroke-width="13" stroke="#3c4a34" stroke-dasharray="8 15" opacity="0.7"/>
<path d="M482.0,782.0 C493.6,785.6 519.4,790.0 540.0,800.0 C560.6,810.0 571.0,820.8 585.0,832.0 C599.0,843.2 605.0,851.2 610.0,856.0" fill="none" stroke-linecap="round" stroke-linejoin="round" stroke-width="13" stroke="#86987a"/>
<path d="M482.0,782.0 C493.6,785.6 519.4,790.0 540.0,800.0 C560.6,810.0 571.0,820.8 585.0,832.0 C599.0,843.2 605.0,851.2 610.0,856.0" fill="none" stroke-width="13" stroke="#3c4a34" stroke-dasharray="8 15" opacity="0.7"/>
<path d="M478.0,788.0 C486.4,796.4 506.6,811.6 520.0,830.0 C533.4,848.4 536.0,863.0 545.0,880.0 C554.0,897.0 561.0,908.0 565.0,915.0" fill="none" stroke-linecap="round" stroke-linejoin="round" stroke-width="13" stroke="#86987a"/>
<path d="M478.0,788.0 C486.4,796.4 506.6,811.6 520.0,830.0 C533.4,848.4 536.0,863.0 545.0,880.0 C554.0,897.0 561.0,908.0 565.0,915.0" fill="none" stroke-width="13" stroke="#3c4a34" stroke-dasharray="8 15" opacity="0.7"/>
<path d="M468.0,785.0 C466.8,792.0 462.4,805.8 462.0,820.0 C461.6,834.2 465.2,848.8 466.0,856.0" fill="none" stroke-linecap="round" stroke-linejoin="round" stroke-width="13" stroke="#86987a"/>
<path d="M468.0,785.0 C466.8,792.0 462.4,805.8 462.0,820.0 C461.6,834.2 465.2,848.8 466.0,856.0" fill="none" stroke-width="13" stroke="#3c4a34" stroke-dasharray="8 15" opacity="0.7"/>
<path d="M490.0,765.0 C496.0,764.0 509.0,760.0 520.0,760.0 C531.0,760.0 540.0,764.0 545.0,765.0" fill="none" stroke-linecap="round" stroke-linejoin="round" stroke-width="13" stroke="#86987a"/>
<path d="M490.0,765.0 C496.0,764.0 509.0,760.0 520.0,760.0 C531.0,760.0 540.0,764.0 545.0,765.0" fill="none" stroke-width="13" stroke="#3c4a34" stroke-dasharray="8 15" opacity="0.7"/>
<path d="M380.0,478.0 C402.0,471.4 422.0,468.6 450.0,462.0 C478.0,455.4 498.0,449.8 520.0,445.0 C542.0,440.2 540.0,443.0 560.0,438.0 C580.0,433.0 592.0,427.6 620.0,420.0 C648.0,412.4 668.0,408.4 700.0,400.0 C732.0,391.6 756.0,385.6 780.0,378.0 C804.0,370.4 809.6,368.4 820.0,362.0 C830.4,355.6 826.0,348.8 832.0,346.0 C838.0,343.2 845.2,344.8 850.0,348.0 C854.8,351.2 850.0,363.2 856.0,362.0 C862.0,360.8 870.2,350.8 880.0,342.0 C889.8,333.2 899.4,326.4 905.0,318.0 C910.6,309.6 901.0,307.2 908.0,300.0 C915.0,292.8 924.6,290.0 940.0,282.0 C955.4,274.0 965.0,262.8 985.0,260.0 C1005.0,257.2 1017.0,262.0 1040.0,268.0 C1063.0,274.0 1082.8,280.8 1100.0,290.0 C1117.2,299.2 1122.0,304.8 1126.0,314.0 C1130.0,323.2 1127.2,325.6 1120.0,336.0 C1112.8,346.4 1106.0,352.8 1090.0,366.0 C1074.0,379.2 1058.0,388.8 1040.0,402.0 C1022.0,415.2 1016.0,421.2 1000.0,432.0 C984.0,442.8 972.8,448.8 960.0,456.0 C947.2,463.2 943.0,461.2 936.0,468.0 C929.0,474.8 932.2,482.6 925.0,490.0 C917.8,497.4 911.0,498.6 900.0,505.0 C889.0,511.4 886.0,514.6 870.0,522.0 C854.0,529.4 842.0,534.4 820.0,542.0 C798.0,549.6 784.0,553.4 760.0,560.0 C736.0,566.6 724.0,570.4 700.0,575.0 C676.0,579.6 664.0,581.8 640.0,583.0 C616.0,584.2 600.0,583.2 580.0,581.0 C560.0,578.8 556.0,571.2 540.0,572.0 C524.0,572.8 520.0,584.4 500.0,585.0 C480.0,585.6 460.0,581.6 440.0,575.0 C420.0,568.4 418.0,558.6 400.0,552.0 C382.0,545.4 364.0,548.4 350.0,542.0 C336.0,535.6 332.0,529.4 330.0,520.0 C328.0,510.6 330.0,503.4 340.0,495.0 C350.0,486.6 358.0,484.6 380.0,478.0 Z" fill="url(#bodygrad)"/>
<clipPath id="lizbody"><path d="M380.0,478.0 C402.0,471.4 422.0,468.6 450.0,462.0 C478.0,455.4 498.0,449.8 520.0,445.0 C542.0,440.2 540.0,443.0 560.0,438.0 C580.0,433.0 592.0,427.6 620.0,420.0 C648.0,412.4 668.0,408.4 700.0,400.0 C732.0,391.6 756.0,385.6 780.0,378.0 C804.0,370.4 809.6,368.4 820.0,362.0 C830.4,355.6 826.0,348.8 832.0,346.0 C838.0,343.2 845.2,344.8 850.0,348.0 C854.8,351.2 850.0,363.2 856.0,362.0 C862.0,360.8 870.2,350.8 880.0,342.0 C889.8,333.2 899.4,326.4 905.0,318.0 C910.6,309.6 901.0,307.2 908.0,300.0 C915.0,292.8 924.6,290.0 940.0,282.0 C955.4,274.0 965.0,262.8 985.0,260.0 C1005.0,257.2 1017.0,262.0 1040.0,268.0 C1063.0,274.0 1082.8,280.8 1100.0,290.0 C1117.2,299.2 1122.0,304.8 1126.0,314.0 C1130.0,323.2 1127.2,325.6 1120.0,336.0 C1112.8,346.4 1106.0,352.8 1090.0,366.0 C1074.0,379.2 1058.0,388.8 1040.0,402.0 C1022.0,415.2 1016.0,421.2 1000.0,432.0 C984.0,442.8 972.8,448.8 960.0,456.0 C947.2,463.2 943.0,461.2 936.0,468.0 C929.0,474.8 932.2,482.6 925.0,490.0 C917.8,497.4 911.0,498.6 900.0,505.0 C889.0,511.4 886.0,514.6 870.0,522.0 C854.0,529.4 842.0,534.4 820.0,542.0 C798.0,549.6 784.0,553.4 760.0,560.0 C736.0,566.6 724.0,570.4 700.0,575.0 C676.0,579.6 664.0,581.8 640.0,583.0 C616.0,584.2 600.0,583.2 580.0,581.0 C560.0,578.8 556.0,571.2 540.0,572.0 C524.0,572.8 520.0,584.4 500.0,585.0 C480.0,585.6 460.0,581.6 440.0,575.0 C420.0,568.4 418.0,558.6 400.0,552.0 C382.0,545.4 364.0,548.4 350.0,542.0 C336.0,535.6 332.0,529.4 330.0,520.0 C328.0,510.6 330.0,503.4 340.0,495.0 C350.0,486.6 358.0,484.6 380.0,478.0 Z"/></clipPath>
<g clip-path="url(#lizbody)">
<path d="M420,520 C560,505 720,470 900,400 L910,440 C760,520 600,555 440,550 Z" fill="#84ccb4" opacity="0.8" filter="url(#lb)"/>
<path d="M520,448 C640,415 780,380 905,320 L930,350 C800,420 660,460 540,480 Z" fill="#27502e" opacity="0.45" filter="url(#lb)"/>
</g>
<ellipse cx="835" cy="352" rx="16" ry="12" fill="#2a4a2c"/>
<mask id="lizmask" maskUnits="userSpaceOnUse" x="0" y="0" width="1240" height="1090">
<g fill="#fff" stroke="#fff">
<path d="M380.0,478.0 C402.0,471.4 422.0,468.6 450.0,462.0 C478.0,455.4 498.0,449.8 520.0,445.0 C542.0,440.2 540.0,443.0 560.0,438.0 C580.0,433.0 592.0,427.6 620.0,420.0 C648.0,412.4 668.0,408.4 700.0,400.0 C732.0,391.6 756.0,385.6 780.0,378.0 C804.0,370.4 809.6,368.4 820.0,362.0 C830.4,355.6 826.0,348.8 832.0,346.0 C838.0,343.2 845.2,344.8 850.0,348.0 C854.8,351.2 850.0,363.2 856.0,362.0 C862.0,360.8 870.2,350.8 880.0,342.0 C889.8,333.2 899.4,326.4 905.0,318.0 C910.6,309.6 901.0,307.2 908.0,300.0 C915.0,292.8 924.6,290.0 940.0,282.0 C955.4,274.0 965.0,262.8 985.0,260.0 C1005.0,257.2 1017.0,262.0 1040.0,268.0 C1063.0,274.0 1082.8,280.8 1100.0,290.0 C1117.2,299.2 1122.0,304.8 1126.0,314.0 C1130.0,323.2 1127.2,325.6 1120.0,336.0 C1112.8,346.4 1106.0,352.8 1090.0,366.0 C1074.0,379.2 1058.0,388.8 1040.0,402.0 C1022.0,415.2 1016.0,421.2 1000.0,432.0 C984.0,442.8 972.8,448.8 960.0,456.0 C947.2,463.2 943.0,461.2 936.0,468.0 C929.0,474.8 932.2,482.6 925.0,490.0 C917.8,497.4 911.0,498.6 900.0,505.0 C889.0,511.4 886.0,514.6 870.0,522.0 C854.0,529.4 842.0,534.4 820.0,542.0 C798.0,549.6 784.0,553.4 760.0,560.0 C736.0,566.6 724.0,570.4 700.0,575.0 C676.0,579.6 664.0,581.8 640.0,583.0 C616.0,584.2 600.0,583.2 580.0,581.0 C560.0,578.8 556.0,571.2 540.0,572.0 C524.0,572.8 520.0,584.4 500.0,585.0 C480.0,585.6 460.0,581.6 440.0,575.0 C420.0,568.4 418.0,558.6 400.0,552.0 C382.0,545.4 364.0,548.4 350.0,542.0 C336.0,535.6 332.0,529.4 330.0,520.0 C328.0,510.6 330.0,503.4 340.0,495.0 C350.0,486.6 358.0,484.6 380.0,478.0 Z" stroke="none"/>
<path d="M654.4,35.6 C643.1,37.2 626.1,40.6 599.0,48.7 C571.8,56.7 552.6,63.5 518.4,75.8 C484.2,88.0 464.2,96.2 428.0,109.9 C391.8,123.5 373.7,128.3 337.4,144.1 C301.0,159.8 280.8,168.8 246.2,188.5 C211.6,208.3 195.3,219.6 164.5,242.9 C133.7,266.2 117.0,277.9 92.2,305.0 C67.3,332.1 56.7,354.4 40.0,378.3 C23.4,402.2 13.3,406.2 8.9,424.6 C4.5,443.0 8.3,454.8 18.1,470.3 C27.9,485.8 37.6,492.5 57.8,502.2 C78.1,511.9 91.2,513.2 119.3,518.8 C147.3,524.3 165.9,525.3 198.1,529.9 C230.3,534.6 248.7,540.1 280.3,542.0 C311.9,543.9 326.1,542.1 356.1,539.4 C386.0,536.8 419.2,546.4 430.0,528.7 C440.8,511.1 427.2,461.7 410.0,451.3 C392.8,440.8 370.0,468.4 343.9,476.6 C317.9,484.7 308.1,489.3 279.7,492.0 C251.3,494.7 232.9,491.4 201.9,490.1 C170.9,488.7 151.1,488.5 124.7,485.2 C98.4,482.0 86.7,480.1 70.2,473.8 C53.6,467.5 48.9,462.2 41.9,453.7 C34.9,445.2 31.5,443.8 35.1,431.4 C38.7,419.0 45.4,414.2 60.0,391.7 C74.5,369.2 84.7,345.9 107.8,319.0 C131.0,292.1 146.3,280.6 175.5,257.1 C204.7,233.6 220.4,221.7 253.8,201.5 C287.2,181.2 307.0,172.2 342.6,155.9 C378.3,139.7 396.2,134.5 432.0,120.1 C467.8,105.8 487.8,97.2 521.6,84.2 C555.4,71.3 574.2,64.1 601.0,55.3 C627.9,46.6 644.9,44.4 655.6,40.4 C666.3,36.5 665.7,33.9 654.4,35.6 Z" stroke="none" opacity="0.55"/>
<path d="M460.0,548.0 C472.0,553.4 498.4,562.2 520.0,575.0 C541.6,587.8 558.4,604.6 568.0,612.0" fill="none" stroke-linecap="round" stroke-linejoin="round" stroke-width="58"/>
<path d="M568.0,612.0 C562.4,625.6 553.6,655.4 540.0,680.0 C526.4,704.6 513.6,715.4 500.0,735.0 C486.4,754.6 477.6,769.4 472.0,778.0" fill="none" stroke-linecap="round" stroke-linejoin="round" stroke-width="44"/>
<path d="M905.0,470.0 C902.4,480.0 894.0,499.0 892.0,520.0 C890.0,541.0 890.4,558.0 895.0,575.0 C899.6,592.0 911.0,599.0 915.0,605.0" fill="none" stroke-linecap="round" stroke-linejoin="round" stroke-width="40"/>
<path d="M915.0,605.0 C925.0,608.4 943.6,614.0 965.0,622.0 C986.4,630.0 1010.6,640.4 1022.0,645.0" fill="none" stroke-linecap="round" stroke-linejoin="round" stroke-width="36"/>
<path d="M520.0,448.0 C531.0,434.0 528.6,412.2 535.0,395.0 C541.4,377.8 553.0,369.0 552.0,362.0 C551.0,355.0 542.4,358.0 530.0,360.0 C517.6,362.0 505.0,365.6 490.0,372.0 C475.0,378.4 469.0,382.4 455.0,392.0 C441.0,401.6 431.0,408.4 420.0,420.0 C409.0,431.6 398.0,440.0 400.0,450.0 C402.0,460.0 414.0,467.0 430.0,470.0 C446.0,473.0 462.0,469.4 480.0,465.0 C498.0,460.6 509.0,462.0 520.0,448.0 Z" stroke="none" opacity="0.6"/>
</g></mask>
<rect x="0" y="0" width="1240" height="1090" fill="#1c3020" mask="url(#lizmask)" opacity="0.06"/>
<rect x="0" y="0" width="1240" height="1090" filter="url(#liztex)" mask="url(#lizmask)" opacity="0.9"/>
<path d="M990,350 C1010,338 1035,340 1050,352 C1030,362 1005,362 990,350 Z" fill="#1c2a1c"/>
<path d="M930,300 C980,280 1040,285 1100,305" stroke="#2a5a34" stroke-width="10" fill="none" opacity="0.6"/>
</g>
</g>
<g id="labels">
<text class="we" font-size="45"><textPath href="#l_thr_e" textLength="347.3" lengthAdjust="spacing">Threatened species</textPath></text>
<text class="wc" font-size="47"><textPath href="#l_thr_c" textLength="186.4" lengthAdjust="spacing">受胁物种</textPath></text>
<text class="we" font-size="45"><textPath href="#l_non_e" textLength="422.0" lengthAdjust="spacing">Non-threatened species</textPath></text>
<text class="wc" font-size="47"><textPath href="#l_non_c" textLength="235.1" lengthAdjust="spacing">非受胁物种</textPath></text>
<text class="we" font-size="45"><textPath href="#l_dd_e" textLength="758.7" lengthAdjust="spacing">Data Deficient and Not Evaluated species</textPath></text>
<text class="wc" font-size="47"><textPath href="#l_dd_c" textLength="458.0" lengthAdjust="spacing">数据缺乏及未评估物种</textPath></text>
<text class="we" font-size="40.5"><textPath href="#r_thr_e" textLength="314.6" lengthAdjust="spacing">Threatened species</textPath></text>
<text class="wc" font-size="42.5"><textPath href="#r_thr_c" textLength="165.4" lengthAdjust="spacing">受胁物种</textPath></text>
<text class="we" font-size="45"><textPath href="#r_non_e" textLength="427.3" lengthAdjust="spacing">Non-threatened species</textPath></text>
<text class="wc" font-size="47"><textPath href="#r_non_c" textLength="239.1" lengthAdjust="spacing">非受胁物种</textPath></text>
<text class="we" font-size="45"><textPath href="#r_dd_e" textLength="766.2" lengthAdjust="spacing">Data Deficient and Not Evaluated species</textPath></text>
<text class="wc" font-size="47"><textPath href="#r_dd_c" textLength="456.3" lengthAdjust="spacing">数据缺乏及未评估物种</textPath></text>
<text x="594" y="127" class="lb" font-size="46">5/</text><text x="594" y="183" class="lb" font-size="46">3.3%</text>
<text x="226" y="316" class="lb" font-size="46">27/</text><text x="226" y="371" class="lb" font-size="46">17.9%</text>
<text x="1248.5" y="411" class="lb" font-size="46">49/</text><text x="1248.5" y="466" class="lb" font-size="46">32.5%</text>
<text x="97" y="890.5" class="lb" font-size="46">19/</text><text x="97" y="946" class="lb" font-size="46">12.6%</text>
<text x="538.5" y="1355.5" class="lb" font-size="46">34/</text><text x="538.5" y="1411" class="lb" font-size="46">22.5%</text>
<text x="1160" y="1180" class="lb" font-size="46">15/</text><text x="1160" y="1235.5" class="lb" font-size="46">9.9%</text>
<text x="2049" y="125" class="lb" font-size="46">6/</text><text x="2049" y="180.5" class="lb" font-size="46">2.9%</text>
<text x="1832.5" y="199" class="lb" font-size="46">15/</text><text x="1832.5" y="254.5" class="lb" font-size="46">7.3%</text>
<text x="1601.5" y="430.5" class="lb" font-size="46">17/</text><text x="1601.5" y="486" class="lb" font-size="46">8.3%</text>
<text x="1681.5" y="1157.4" class="lb" font-size="46">75/</text><text x="1681.5" y="1212.8" class="lb" font-size="46">36.4%</text>
<text x="2572.5" y="1217.4" class="lb" font-size="46">21/</text><text x="2572.5" y="1272.8" class="lb" font-size="46">10.2%</text>
<text x="2724.3" y="447.4" class="lb" font-size="46">69/</text><text x="2724.3" y="502.8" class="lb" font-size="46">33.5%</text>
<text x="715" y="45.3" class="lb" font-size="66">2/1.3%</text>
<text x="2166.5" y="45.3" class="lb" font-size="66">3/1.5%</text>
</g>
<g id="legend">
<rect x="2977" y="408.0" width="128" height="57.5" fill="#a8342c" stroke="#1c1a19" stroke-width="3"/>
<text x="3124" y="460.5" class="lg"><tspan class="lc">极危</tspan> CR</text>
<rect x="2977" y="507.9" width="128" height="57.5" fill="#dc7a33" stroke="#1c1a19" stroke-width="3"/>
<text x="3124" y="560.4" class="lg"><tspan class="lc">濒危</tspan> EN</text>
<rect x="2977" y="607.8" width="128" height="57.5" fill="#ebb641" stroke="#1c1a19" stroke-width="3"/>
<text x="3124" y="660.3" class="lg"><tspan class="lc">易危</tspan> VU</text>
<rect x="2977" y="707.7" width="128" height="57.5" fill="#8ac05c" stroke="#1c1a19" stroke-width="3"/>
<text x="3124" y="760.2" class="lg"><tspan class="lc">近危</tspan> NT</text>
<rect x="2977" y="807.6" width="128" height="57.5" fill="#4ba24f" stroke="#1c1a19" stroke-width="3"/>
<text x="3124" y="860.1" class="lg"><tspan class="lc">无危</tspan> LC</text>
<rect x="2977" y="907.5" width="128" height="57.5" fill="#a69c99" stroke="#1c1a19" stroke-width="3"/>
<text x="3124" y="960.0" class="lg"><tspan class="lc">数据缺乏</tspan> DD</text>
<rect x="2977" y="1007.4" width="128" height="57.5" fill="#857b79" stroke="#1c1a19" stroke-width="3"/>
<text x="3124" y="1059.9" class="lg"><tspan class="lc">未评估</tspan> NE</text>
</g>
</svg>
</body>
</html>
